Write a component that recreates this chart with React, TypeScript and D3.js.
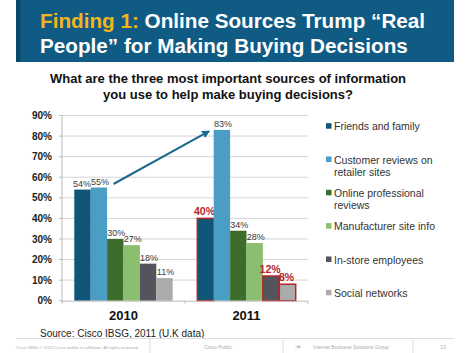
import * as React from 'react';
import * as d3 from 'd3';

const years = ['2010', '2011'];
const sources = [
  'Friends and family',
  'Customer reviews on retailer sites',
  'Online professional reviews',
  'Manufacturer site info',
  'In-store employees',
  'Social networks',
];
const legendLines = [
  ['Friends and family'],
  ['Customer reviews on', 'retailer sites'],
  ['Online professional', 'reviews'],
  ['Manufacturer site info'],
  ['In-store employees'],
  ['Social networks'],
];
const values2010 = [54, 55, 30, 27, 18, 11];
const values2011 = [40, 83, 34, 28, 12, 8];
// 2011 bars called out with a red box
const highlight2011 = [true, false, false, false, true, true];
const yTicks = [0, 10, 20, 30, 40, 50, 60, 70, 80, 90];

const colors = ['#0F5677', '#4A9EC4', '#3C6D2A', '#8BBE6E', '#54545C', '#ABABAB'];

const W = 470;
const H = 353;
const font = '"Liberation Sans", Arial, sans-serif';
const red = '#B8232A';

const margin = { left: 62, right: 308, top: 115.5, bottom: 300.7 };

export default function App() {
  const x0 = d3.scaleBand<string>().domain(years).range([margin.left, margin.right]);
  const x1 = d3.scaleBand<string>().domain(sources).range([0, x0.bandwidth()]).paddingOuter(0.75);
  const y = d3.scaleLinear().domain([0, 90]).range([margin.bottom, margin.top]);
  const legendY = d3.scalePoint<string>().domain(sources).range([126.7, 293.3]);

  const rows = [values2010, values2011];

  // arrow from top of 2010 customer reviews to 2011 customer reviews
  const arrowStart: [number, number] = [113.5, 184];
  const arrowEnd: [number, number] = [
    (x0('2011') as number) + (x1(sources[1]) as number) - 5,
    y(83) + 1.5,
  ];

  return (
    <div style={{ position: 'absolute', left: 0, top: 0 }}>
      <svg width={W} height={H} style={{ display: 'block', fontFamily: font }}>
        <defs>
          <marker id="ah" viewBox="0 0 10 10" refX="8" refY="5" markerWidth="4" markerHeight="4" orient="auto">
            <path d="M0,0 L10,5 L0,10 z" fill="#1D6A8E" />
          </marker>
        </defs>
        <rect width={W} height={H} fill="#fff" />

        {/* header banner */}
        <rect x={16} y={0} width={438} height={62} fill="#0F5B83" />
        <rect x={16} y={0} width={4.5} height={62} fill="#0A486A" />
        <text x={40} y={27.5} fontSize={20.7} fontWeight="bold" fill="#fff">
          <tspan fill="#F3B51D">Finding 1:</tspan> Online Sources Trump “Real
        </text>
        <text x={40} y={52.5} fontSize={20.7} fontWeight="bold" fill="#fff">
          People” for Making Buying Decisions
        </text>

        {/* question */}
        <text x={228} y={83} fontSize={13} fontWeight="bold" fill="#111" textAnchor="middle">
          What are the three most important sources of information
        </text>
        <text x={228} y={99} fontSize={13} fontWeight="bold" fill="#111" textAnchor="middle">
          you use to help make buying decisions?
        </text>

        {/* grid and y axis */}
        {yTicks.map((t) => (
          <g key={t}>
            {t > 0 && (
              <line x1={margin.left} x2={margin.right} y1={y(t)} y2={y(t)} stroke="#D4D4D4" strokeWidth={1} />
            )}
            <line x1={margin.left - 3} x2={margin.left} y1={y(t)} y2={y(t)} stroke="#BBBBBB" />
            <text x={52} y={y(t) + 3.6} fontSize={10} fontWeight="bold" fill="#222" textAnchor="end">
              {t}%
            </text>
          </g>
        ))}
        <line x1={margin.left} x2={margin.left} y1={margin.top} y2={margin.bottom} stroke="#BBBBBB" />

        {/* bars */}
        {rows.map((vals, yi) =>
          vals.map((v, si) => {
            const bx = (x0(years[yi]) as number) + (x1(sources[si]) as number);
            const bw = x1.bandwidth();
            const hl = yi === 1 && highlight2011[si];
            return (
              <g key={`${yi}-${si}`}>
                <rect
                  x={bx}
                  y={y(v)}
                  width={bw}
                  height={y(0) - y(v)}
                  fill={colors[si]}
                  stroke={hl ? red : 'none'}
                  strokeWidth={hl ? 1.5 : 0}
                />
                <text
                  x={bx + bw / 2 + (hl ? -1 : si === 0 ? -0.5 : 1)}
                  y={y(v) - 3}
                  fontSize={hl ? 10.5 : 9}
                  fontWeight={hl ? 'bold' : 'normal'}
                  fill={hl ? red : '#3A3A3A'}
                  textAnchor="middle"
                >
                  {v}%
                </text>
              </g>
            );
          })
        )}

        {/* x axis */}
        <line x1={margin.left} x2={margin.right} y1={margin.bottom + 0.5} y2={margin.bottom + 0.5} stroke="#BBBBBB" />
        {[margin.left, margin.left + x0.bandwidth(), margin.right].map((tx) => (
          <line key={tx} x1={tx} x2={tx} y1={margin.bottom} y2={margin.bottom + 3} stroke="#BBBBBB" />
        ))}
        {years.map((yr) => (
          <text
            key={yr}
            x={(x0(yr) as number) + x0.bandwidth() / 2}
            y={320}
            fontSize={13}
            fontWeight="bold"
            fill="#111"
            textAnchor="middle"
          >
            {yr}
          </text>
        ))}

        {/* arrow */}
        <line
          x1={arrowStart[0]}
          y1={arrowStart[1]}
          x2={arrowEnd[0]}
          y2={arrowEnd[1]}
          stroke="#1D6A8E"
          strokeWidth={2}
          markerEnd="url(#ah)"
        />

        {/* legend */}
        {sources.map((s, i) => {
          const ly = legendY(s) as number;
          return (
            <g key={s}>
              <rect x={326} y={ly - 3.5} width={5.5} height={5.5} fill={colors[i]} />
              {legendLines[i].map((ln, li) => (
                <text key={li} x={334} y={ly + 3.6 + li * 12.3} fontSize={10.5} fill="#333">
                  {ln}
                </text>
              ))}
            </g>
          );
        })}

        {/* source + footer */}
        <text x={40} y={337} fontSize={10} fill="#222">
          Source: Cisco IBSG, 2011 (U.K data)
        </text>
        <line x1={16} x2={454} y1={338.5} y2={338.5} stroke="#DDDDDD" />
        {[150, 283, 413].map((fx) => (
          <line key={fx} x1={fx} x2={fx} y1={339} y2={353} stroke="#DDDDDD" />
        ))}
        <text x={16} y={348.5} fontSize={4.3} fill="#AAAAAA">
          Cisco IBSG © 2012 Cisco and/or its affiliates. All rights reserved.
        </text>
        <text x={218} y={348.5} fontSize={5} fill="#AAAAAA" textAnchor="middle">
          Cisco Public
        </text>
        <text x={298} y={348.5} fontSize={7} fill="#AAAAAA" textAnchor="middle">
          ➔
        </text>
        <text x={313} y={348.5} fontSize={5} fill="#AAAAAA">
          Internet Business Solutions Group
        </text>
        <text x={443} y={348.5} fontSize={5} fill="#AAAAAA" textAnchor="middle">
          13
        </text>
      </svg>
    </div>
  );
}
